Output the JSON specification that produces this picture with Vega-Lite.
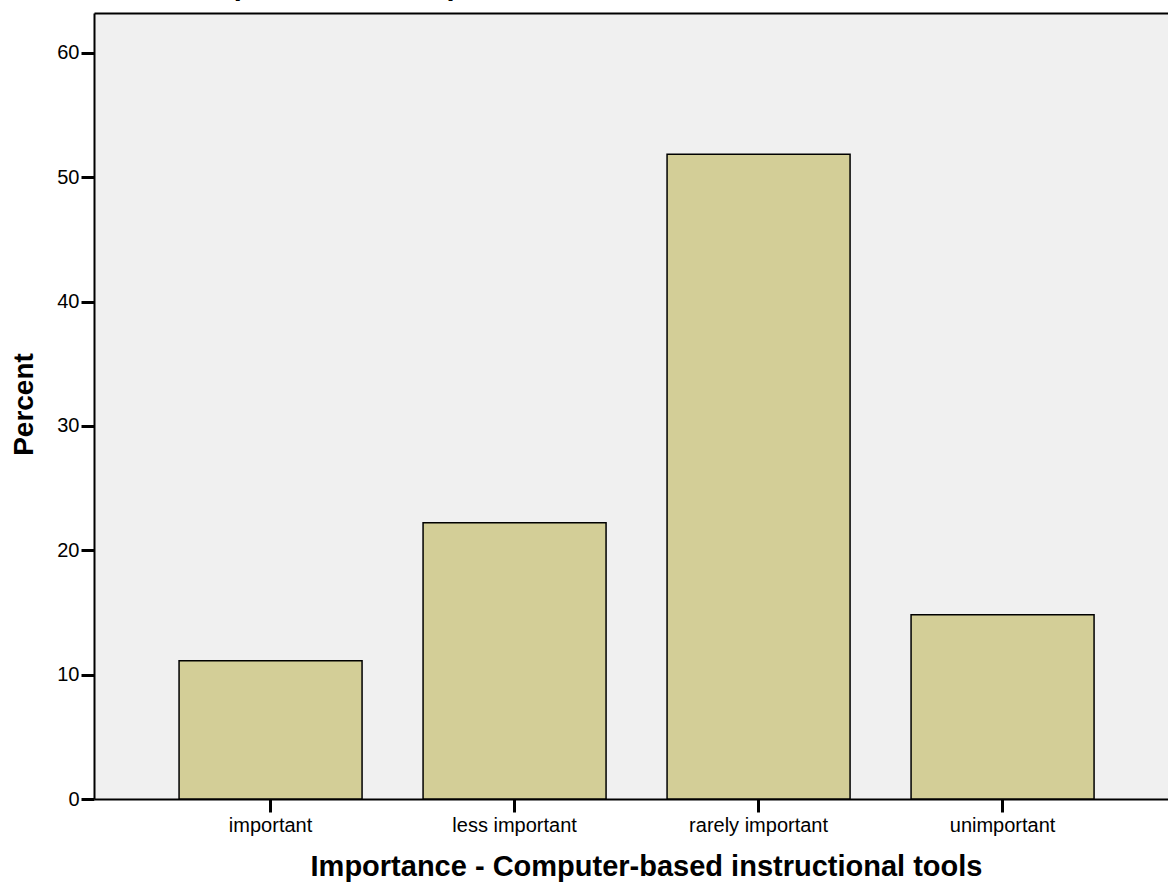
{
  "$schema": "https://vega.github.io/schema/vega-lite/v6.json",
  "autosize": {"type": "none"},
  "padding": {"left": 94, "top": 13, "right": 0, "bottom": 88},
  "width": 1074,
  "height": 786,
  "background": "white",
  "title": {
    "text": "Importance - Computer-based instructional tools",
    "anchor": "start",
    "frame": "group",
    "baseline": "alphabetic",
    "offset": 6,
    "dy": 17,
    "dx": 106,
    "font": "Liberation Sans",
    "fontSize": 29,
    "fontWeight": "bold",
    "color": "black"
  },
  "config": {
    "view": {"fill": "#f0f0f0", "stroke": null},
    "font": "Liberation Sans"
  },
  "data": {
    "values": [
      {"category": "important", "percent": 11.11},
      {"category": "less important", "percent": 22.22},
      {"category": "rarely important", "percent": 51.85},
      {"category": "unimportant", "percent": 14.81}
    ]
  },
  "layer": [
    {
      "mark": {"type": "bar", "fill": "#d3ce97", "stroke": "black", "strokeWidth": 1.5},
      "encoding": {
        "x": {
          "field": "category",
          "type": "nominal",
          "sort": null,
          "title": "Importance - Computer-based instructional tools",
          "axis": {
            "orient": "bottom",
            "labelAngle": 0,
            "labelFont": "Liberation Sans",
            "labelFontSize": 20,
            "labelColor": "black",
            "labelPadding": 3,
            "domainColor": "black",
            "domainWidth": 2,
            "tickColor": "black",
            "tickWidth": 3,
            "tickSize": 13,
            "titleFont": "Liberation Sans",
            "titleFontSize": 29,
            "titleFontWeight": "bold",
            "titleColor": "black",
            "titlePadding": 17,
            "titleX": 552,
            "grid": false
          },
          "scale": {"paddingInner": 0.25, "paddingOuter": 0.3258, "align": 0.535}
        },
        "y": {
          "field": "percent",
          "type": "quantitative",
          "title": "Percent",
          "scale": {"domain": [0, 63.2], "nice": false, "zero": true},
          "axis": {
            "values": [0, 10, 20, 30, 40, 50, 60],
            "labelFont": "Liberation Sans",
            "labelFontSize": 20,
            "labelColor": "black",
            "labelPadding": 2,
            "domainColor": "black",
            "domainWidth": 2,
            "tickColor": "black",
            "tickWidth": 3,
            "tickSize": 13,
            "titleFont": "Liberation Sans",
            "titleFontSize": 28,
            "titleFontWeight": "bold",
            "titleColor": "black",
            "titlePadding": 18,
            "titleY": 391,
            "grid": false
          }
        }
      }
    },
    {
      "mark": {"type": "bar", "opacity": 0},
      "encoding": {
        "x": {
          "field": "category",
          "type": "nominal",
          "sort": null,
          "axis": {
            "orient": "top",
            "title": null,
            "labels": false,
            "ticks": false,
            "domainColor": "black",
            "domainWidth": 2,
            "grid": false
          },
          "scale": {"paddingInner": 0.25, "paddingOuter": 0.3258, "align": 0.535}
        },
        "y": {"field": "percent", "type": "quantitative", "axis": null}
      }
    }
  ],
  "resolve": {"axis": {"x": "independent", "y": "independent"}}
}
